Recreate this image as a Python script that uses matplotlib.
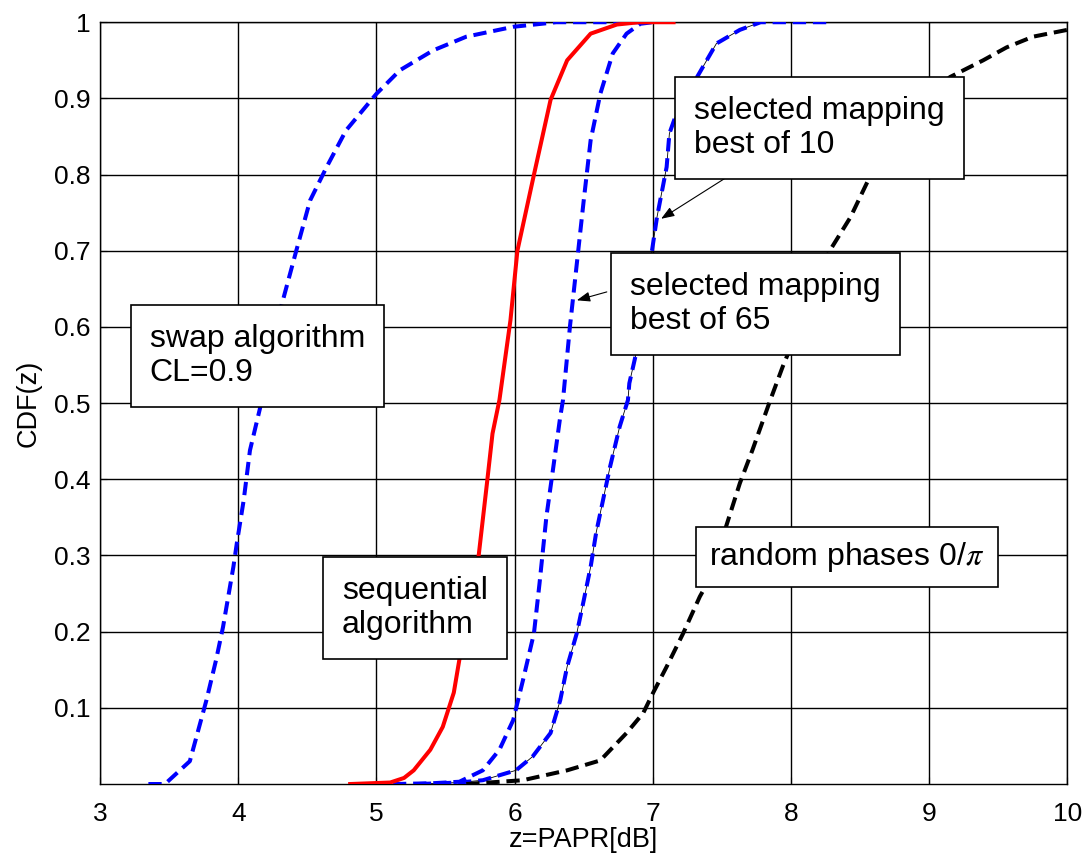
import numpy as np
import matplotlib
matplotlib.use('Agg')
import matplotlib.pyplot as plt

plt.rcParams['font.family'] = ['Liberation Sans', 'DejaVu Sans']
plt.rcParams['mathtext.fontset'] = 'stix'

# ==================== data ====================
# swap algorithm, CL=0.9
swap_x = [3.35, 3.47, 3.65, 3.77, 3.84, 3.89, 3.965, 3.99, 4.04, 4.085, 4.16, 4.31,
          4.42, 4.52, 4.64, 4.78, 5.0, 5.17, 5.41, 5.65, 5.99, 6.3, 6.9]
swap_y = [0, 0, 0.03, 0.11, 0.163, 0.206, 0.285, 0.316, 0.373, 0.438, 0.495, 0.626,
          0.70, 0.766, 0.81, 0.858, 0.906, 0.937, 0.963, 0.981, 0.994, 1.0, 1.0]

# sequential algorithm
seq_x = [4.81, 5.1, 5.2, 5.27, 5.39, 5.48, 5.56, 5.6, 5.67, 5.74, 5.80, 5.84, 5.89,
         5.97, 6.02, 6.14, 6.26, 6.38, 6.55, 6.74, 6.9, 7.15]
seq_y = [0, 0.002, 0.008, 0.018, 0.045, 0.075, 0.12, 0.163, 0.23, 0.3, 0.395, 0.46,
         0.504, 0.609, 0.70, 0.80, 0.898, 0.95, 0.985, 0.997, 1.0, 1.0]

# selected mapping, best of 65
slm65_x = [5.12, 5.4, 5.6, 5.77, 5.89, 5.99, 6.06, 6.14, 6.18, 6.23, 6.28, 6.33, 6.35,
           6.40, 6.45, 6.50, 6.55, 6.62, 6.71, 6.81, 6.91, 7.0]
slm65_y = [0, 0.001, 0.003, 0.018, 0.045, 0.084, 0.136, 0.198, 0.263, 0.351, 0.416,
           0.482, 0.504, 0.60, 0.683, 0.766, 0.845, 0.906, 0.959, 0.985, 0.998, 1.0]

# selected mapping, best of 10
slm10_x = [5.3, 5.6, 5.77, 6.01, 6.13, 6.26, 6.33, 6.38, 6.45, 6.50, 6.55, 6.59, 6.64,
           6.69, 6.76, 6.82, 6.83, 6.91, 6.98, 7.03, 7.10, 7.12, 7.2, 7.32, 7.46,
           7.63, 7.78, 8.26]
slm10_y = [0, 0.002, 0.005, 0.018, 0.036, 0.067, 0.11, 0.154, 0.198, 0.241, 0.285,
           0.33, 0.373, 0.416, 0.469, 0.504, 0.526, 0.59, 0.683, 0.744, 0.81, 0.854,
           0.895, 0.928, 0.972, 0.99, 1.0, 1.0]

# random phases 0/pi
rnd_x = [5.65, 6.06, 6.38, 6.62, 6.81, 6.93, 7.0, 7.10, 7.22, 7.34, 7.46, 7.53, 7.63,
         7.72, 7.85, 7.94, 7.99, 8.28, 8.43, 8.57, 8.75, 8.95, 9.15, 9.39, 9.56,
         9.75, 10.0]
rnd_y = [0, 0.005, 0.018, 0.031, 0.067, 0.093, 0.119, 0.154, 0.198, 0.246, 0.285,
         0.338, 0.395, 0.438, 0.504, 0.548, 0.57, 0.70, 0.744, 0.797, 0.85, 0.895,
         0.928, 0.95, 0.967, 0.981, 0.99]

x_ticks = [3, 4, 5, 6, 7, 8, 9, 10]
y_ticks = [0.1, 0.2, 0.3, 0.4, 0.5, 0.6, 0.7, 0.8, 0.9, 1.0]
y_tick_labels = ['0.1', '0.2', '0.3', '0.4', '0.5', '0.6', '0.7', '0.8', '0.9', '1']

# ==================== figure ====================
fig = plt.figure(figsize=(10.87, 8.55), dpi=100)
ax = fig.add_axes([0.092, 0.083, 0.890, 0.891])

lw = 2.9
dash = (3.3, 1.7)
ax.plot(swap_x, swap_y, color='blue', lw=lw, dashes=dash, zorder=3)
ax.plot(slm10_x, slm10_y, color='black', lw=0.6, zorder=3)
ax.plot(slm10_x, slm10_y, color='blue', lw=lw, dashes=dash, zorder=3)
ax.plot(slm65_x, slm65_y, color='blue', lw=lw, dashes=dash, zorder=3)
ax.plot(rnd_x, rnd_y, color='black', lw=lw, dashes=dash, zorder=3)
ax.plot(seq_x, seq_y, color='red', lw=lw, zorder=4)

ax.set_xlim(3, 10)
ax.set_ylim(0, 1)
ax.set_xticks(x_ticks)
ax.set_yticks(y_ticks)
ax.set_yticklabels(y_tick_labels)
ax.grid(True, color='black', lw=1.0, ls='-')
ax.set_axisbelow(True)
ax.tick_params(direction='in', labelsize=19, length=5, top=False, right=True)
ax.tick_params(axis='x', pad=13)
ax.tick_params(axis='y', pad=7)
for s in ax.spines.values():
    s.set_linewidth(1.0)

ax.set_xlabel('z=PAPR[dB]', fontsize=19.5, labelpad=1)
ax.set_ylabel('CDF(z)', fontsize=19.5, labelpad=9)

box = dict(boxstyle='square,pad=0.6', facecolor='white', edgecolor='black', lw=1.2)
fs = 23
ax.text(3.36, 0.562, 'swap algorithm\nCL=0.9', fontsize=fs, va='center', ha='left',
        bbox=box, zorder=6, linespacing=1.15)
ax.text(4.75, 0.231, 'sequential\nalgorithm', fontsize=fs, va='center', ha='left',
        bbox=box, zorder=6, linespacing=1.15)
ax.text(7.30, 0.861, 'selected mapping\nbest of 10', fontsize=fs, va='center', ha='left',
        bbox=box, zorder=6, linespacing=1.15)
ax.text(6.835, 0.63, 'selected mapping\nbest of 65', fontsize=fs, va='center', ha='left',
        bbox=box, zorder=6, linespacing=1.15)
ax.text(7.41, 0.298, r'random phases 0/$\pi$', fontsize=fs, va='center', ha='left',
        bbox=dict(boxstyle='square,pad=0.42', facecolor='white', edgecolor='black', lw=1.2),
        zorder=6)

arrow = dict(arrowstyle='-|>,head_length=0.8,head_width=0.3', color='black', lw=0.8,
             shrinkA=0, shrinkB=0)
ax.annotate('', xy=(7.06, 0.742), xytext=(7.53, 0.796), arrowprops=arrow, zorder=5)
ax.annotate('', xy=(6.45, 0.635), xytext=(6.667, 0.646), arrowprops=arrow, zorder=5)

fig.savefig('out.png', dpi=100)
